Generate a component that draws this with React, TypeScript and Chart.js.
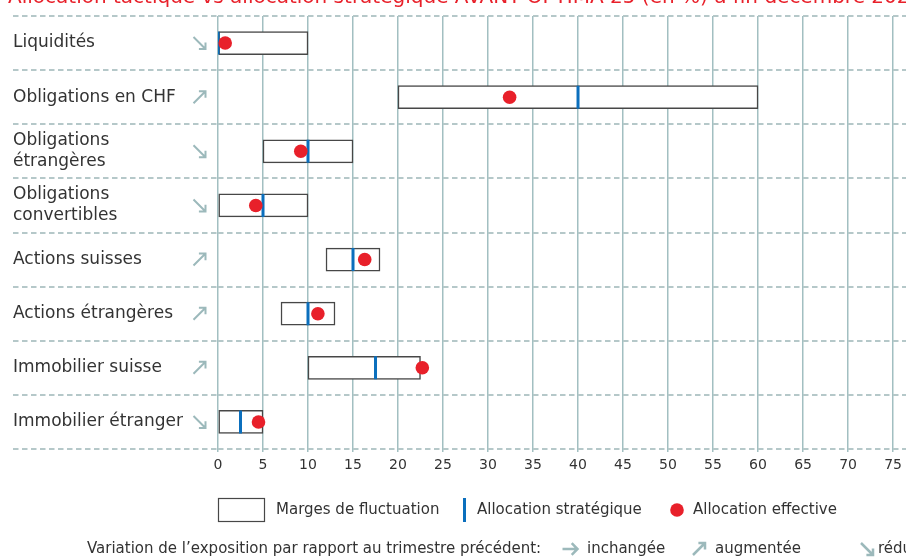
import React, { useEffect, useRef } from 'react';
import { Chart, registerables } from 'chart.js';

Chart.register(...registerables);

const TITLE = 'Allocation tactique vs allocation stratégique AVANT OPTIMA 25 (en %) à fin décembre 2021';
const CATEGORIES = [
  'Liquidités',
  'Obligations en CHF',
  'Obligations étrangères',
  'Obligations convertibles',
  'Actions suisses',
  'Actions étrangères',
  'Immobilier suisse',
  'Immobilier étranger',
];
const LABEL_LINES = [
  ['Liquidités'],
  ['Obligations en CHF'],
  ['Obligations', 'étrangères'],
  ['Obligations', 'convertibles'],
  ['Actions suisses'],
  ['Actions étrangères'],
  ['Immobilier suisse'],
  ['Immobilier étranger'],
];
const RANGE_MIN = [0, 20, 5, 0, 12, 7, 10, 0];
const RANGE_MAX = [10, 60, 15, 10, 18, 13, 22.5, 5];
const STRATEGIC = [0, 40, 10, 5, 15, 10, 17.5, 2.5];
const EFFECTIVE = [0.8, 32.4, 9.2, 4.2, 16.3, 11.1, 22.7, 4.5];
const TREND = ['down', 'up', 'down', 'down', 'up', 'up', 'up', 'down'];
const X_TICKS = [0, 5, 10, 15, 20, 25, 30, 35, 40, 45, 50, 55, 60, 65, 70, 75];
const X_MIN = 0;
const X_MAX = 76.44;
const LEGEND_LABELS = ['Marges de fluctuation', 'Allocation stratégique', 'Allocation effective'];
const TREND_CAPTION = 'Variation de l\u2019exposition par rapport au trimestre précédent:';
const TREND_LABELS = ['inchangée', 'augmentée', 'réduite'];

const RED = '#e8202a';
const BLUE = '#0b6fbd';
const TEXT = '#333333';
const HGRID = '#b5c8c9';
const VGRID = '#a2bfc1';
const ARROW = '#9cb9bb';
const BOX_BORDER = '#474747';
const FONT = '"DejaVu Sans", Verdana, sans-serif';

function drawArrow(ctx: CanvasRenderingContext2D, cx: number, cy: number, dir: string, s: number, w: number) {
  const h = s / 2;
  const k = s * 0.55;
  ctx.save();
  ctx.strokeStyle = ARROW;
  ctx.lineWidth = w;
  ctx.lineCap = 'butt';
  ctx.lineJoin = 'miter';
  ctx.beginPath();
  if (dir === 'down') {
    ctx.moveTo(cx - h, cy - h);
    ctx.lineTo(cx + h - 1, cy + h - 1);
    ctx.moveTo(cx + h - k, cy + h);
    ctx.lineTo(cx + h, cy + h);
    ctx.lineTo(cx + h, cy + h - k);
  } else if (dir === 'up') {
    ctx.moveTo(cx - h, cy + h);
    ctx.lineTo(cx + h - 1, cy - h + 1);
    ctx.moveTo(cx + h - k, cy - h);
    ctx.lineTo(cx + h, cy - h);
    ctx.lineTo(cx + h, cy - h + k);
  } else {
    ctx.moveTo(cx - h, cy);
    ctx.lineTo(cx + h - 1, cy);
    ctx.moveTo(cx + h - k * 0.7, cy - k * 0.7);
    ctx.lineTo(cx + h, cy);
    ctx.lineTo(cx + h - k * 0.7, cy + k * 0.7);
  }
  ctx.stroke();
  ctx.restore();
}

export default function App() {
  const ref = useRef<HTMLCanvasElement>(null);

  useEffect(() => {
    const canvas = ref.current;
    if (!canvas) return;

    const overlay = {
      id: 'overlay',
      afterDraw(chart: any) {
        const ctx: CanvasRenderingContext2D = chart.ctx;
        const yScale = chart.scales.y;
        ctx.save();
        // title (clipped at top)
        ctx.fillStyle = RED;
        ctx.font = `20px ${FONT}`;
        ctx.textBaseline = 'alphabetic';
        ctx.textAlign = 'left';
        ctx.fillText(TITLE, 8, 3);

        // trend arrows per category
        TREND.forEach((d, i) => {
          const y = yScale.getPixelForValue(i);
          drawArrow(ctx, 199.5, y, d, 12, 2);
        });

        // legend row 1
        ctx.font = `15px ${FONT}`;
        ctx.fillStyle = TEXT;
        ctx.textBaseline = 'middle';
        const ly = 510;
        ctx.strokeStyle = BOX_BORDER;
        ctx.lineWidth = 1.2;
        ctx.strokeRect(218.5, 498.5, 46, 23);
        ctx.fillText(LEGEND_LABELS[0], 276, ly);
        ctx.fillStyle = BLUE;
        ctx.fillRect(463, 498, 3, 24);
        ctx.fillStyle = TEXT;
        ctx.fillText(LEGEND_LABELS[1], 477, ly);
        ctx.fillStyle = RED;
        ctx.beginPath();
        ctx.arc(677, ly, 6.8, 0, Math.PI * 2);
        ctx.fill();
        ctx.fillStyle = TEXT;
        ctx.fillText(LEGEND_LABELS[2], 693, ly);

        // legend row 2
        const ty = 549;
        ctx.fillText(TREND_CAPTION, 87, ty);
        drawArrow(ctx, 570, ty, 'right', 15, 2.5);
        ctx.fillStyle = TEXT;
        ctx.fillText(TREND_LABELS[0], 587, ty);
        drawArrow(ctx, 699, ty, 'up', 12, 2.5);
        ctx.fillStyle = TEXT;
        ctx.fillText(TREND_LABELS[1], 715, ty);
        drawArrow(ctx, 867, ty, 'down', 12, 2.5);
        ctx.fillStyle = TEXT;
        ctx.fillText(TREND_LABELS[2], 878, ty);
        ctx.restore();
      },
    };

    const chart = new Chart(canvas, {
      type: 'bar',
      data: {
        labels: CATEGORIES,
        datasets: [
          {
            type: 'scatter',
            label: LEGEND_LABELS[2],
            data: EFFECTIVE.map((v, i) => ({ x: v, y: CATEGORIES[i] })),
            pointStyle: 'circle',
            pointRadius: 6.8,
            pointBackgroundColor: RED,
            pointBorderWidth: 0,
            order: 0,
          } as any,
          {
            type: 'scatter',
            label: LEGEND_LABELS[1],
            data: STRATEGIC.map((v, i) => ({ x: v, y: CATEGORIES[i] })),
            pointStyle: 'line',
            pointRadius: 11.5,
            pointRotation: 90,
            pointBorderColor: BLUE,
            pointBorderWidth: 3,
            order: 1,
          } as any,
          {
            type: 'bar',
            label: LEGEND_LABELS[0],
            data: RANGE_MIN.map((v, i) => [v, RANGE_MAX[i]]),
            backgroundColor: '#ffffff',
            borderColor: BOX_BORDER,
            borderWidth: 1.5,
            borderSkipped: false,
            barThickness: 23,
            order: 2,
          } as any,
        ],
      },
      options: {
        responsive: false,
        animation: false,
        devicePixelRatio: 1,
        events: [],
        indexAxis: 'y',
        layout: { autoPadding: false, padding: { left: 13, top: 16, right: 0, bottom: 0 } },
        plugins: {
          legend: { display: false },
          tooltip: { enabled: false },
          title: { display: false },
        },
        scales: {
          x: {
            type: 'linear',
            position: 'bottom',
            min: X_MIN,
            max: X_MAX,
            afterBuildTicks: (s: any) => {
              s.ticks = X_TICKS.map((v) => ({ value: v }));
            },
            afterFit: (s: any) => {
              s.height = 109;
              s.paddingLeft = 0;
              s.paddingRight = 0;
            },
            grid: { color: VGRID, lineWidth: 1.5, tickLength: 3, drawTicks: true, tickColor: VGRID },
            border: { display: false },
            ticks: {
              font: { family: FONT, size: 14 },
              color: TEXT,
              padding: 5,
              maxRotation: 0,
              autoSkip: false,
            },
          },
          y: {
            type: 'category',
            position: 'left',
            offset: true,
            labels: CATEGORIES,
            afterFit: (s: any) => {
              s.width = 205;
              s.paddingTop = 0;
              s.paddingBottom = 0;
            },
            grid: {
              offset: true,
              color: HGRID,
              lineWidth: 2,
              drawTicks: true,
              tickLength: 205,
              tickColor: HGRID,
              tickWidth: 2,
              tickBorderDash: [5.5, 3.5],
            },
            border: { display: false, dash: [5.5, 3.5] },
            ticks: {
              crossAlign: 'far',
              font: { family: FONT, size: 17, lineHeight: 1.25 },
              color: TEXT,
              padding: 0,
              autoSkip: false,
              callback: (_v: any, i: number) => LABEL_LINES[i],
            },
          },
        },
      } as any,
      plugins: [overlay],
    });

    return () => chart.destroy();
  }, []);

  return (
    <div style={{ position: 'fixed', left: 0, top: 0, width: 906, height: 558, background: '#ffffff' }}>
      <canvas ref={ref} width={906} height={558} style={{ width: 906, height: 558, display: 'block' }} />
    </div>
  );
}
